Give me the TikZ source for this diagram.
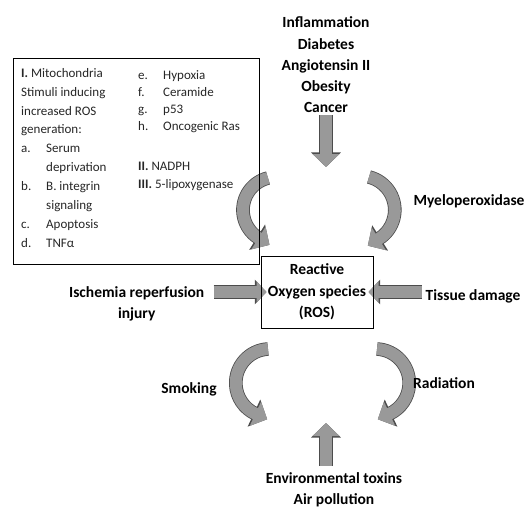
\documentclass[tikz,border=0pt]{standalone}
\usepackage{fontspec}
\setmainfont{Carlito}
\usetikzlibrary{arrows.meta, positioning, backgrounds}
\tikzstyle{factor} = [font=\fontsize{15.5}{21.2}\selectfont\bfseries, align=center, inner sep=2pt]
\tikzstyle{rosbox} = [rectangle, draw=black, line width=1pt, minimum width=112pt, minimum height=72pt, font=\fontsize{15.5}{21.5}\selectfont\bfseries, align=center]
\tikzstyle{listbox} = [rectangle, draw=black, line width=1pt, minimum width=246pt, minimum height=205pt]
\tikzstyle{listtext} = [font=\fontsize{13}{18.9}\selectfont, align=left, inner sep=0pt, anchor=north west, text=black!85]
\tikzstyle{blockarrow} = [line width=12pt, draw=black!40, -{Triangle[length=13pt,width=26pt]}, preaction={draw=black!70, line width=13.6pt, -{Triangle[length=14.6pt,width=29pt]}}]
\tikzstyle{sidearrow} = [line width=12pt, draw=black!40, -{Triangle[length=10pt,width=21pt]}, preaction={draw=black!70, line width=13.6pt, -{Triangle[length=11.6pt,width=24pt]}}]
\newcommand{\stimitem}[2]{\makebox[25pt][l]{#1}#2}

\begin{document}
\begin{tikzpicture}[x=1pt, y=1pt]
\useasboundingbox (0,0) rectangle (527,-508);
\node (ros) [rosbox] at (317,-292) {Reactive\\Oxygen species\\(ROS)};
\node (causes) [factor] at (326,-65) {Inflammation\\Diabetes\\Angiotensin II\\Obesity\\Cancer};
\node (isch) [factor, left=54pt of ros, yshift=-12pt] {Ischemia reperfusion\\injury};
\node (tissue) [factor, right=50pt of ros, yshift=-4pt] {Tissue damage};
\node (myelo) [factor] at (469,-201) {Myeloperoxidase};
\node (smoking) [factor] at (189,-389) {Smoking};
\node (radiation) [factor] at (444,-383) {Radiation};
\node (env) [factor] at (334,-490) {Environmental toxins\\Air pollution};
\node (stimuli) [listbox] at (136,-161.5) {};
\node (stimleft) [listtext] at (21,-68) {{\bfseries I.} Mitochondria\\
  Stimuli inducing\\
  increased ROS\\
  generation:\\
  \stimitem{a.}{Serum}\\
  \stimitem{}{deprivation}\\
  \stimitem{b.}{B. integrin}\\
  \stimitem{}{signaling}\\
  \stimitem{c.}{Apoptosis}\\
  \stimitem{d.}{TNFα}};
\node (stimright) [listtext, font=\fontsize{13}{17.2}\selectfont] at (138,-70) {\stimitem{e.}{Hypoxia}\\
  \stimitem{f.}{Ceramide}\\
  \stimitem{g.}{p53}\\
  \stimitem{h.}{Oncogenic Ras}\\[23pt]
  {\bfseries II.} NADPH\\
  {\bfseries III.} 5-lipoxygenase};
\coordinate (downtip) at (326,-167);
\coordinate (uptip) at (326,-423);
\coordinate (tl) at (268,-178);
\coordinate (tr) at (369,-177);
\coordinate (bl) at (268,-349);
\coordinate (br) at (377,-349);
\begin{scope}[on background layer]
\draw [blockarrow] (causes.south) -- (downtip);
\draw [blockarrow, shorten <=5pt] (env.north -| uptip) -- (uptip);
\draw [sidearrow, shorten <=7pt, shorten >=-6pt] (isch.east |- ros.west) -- (ros.west);
\draw [sidearrow, shorten <=2pt, shorten >=-5pt] (tissue.west |- ros.east) -- (ros.east);
\draw [blockarrow] (tl) arc[start angle=104, end angle=238, radius=33pt] -- ++(328:13pt);
\draw [blockarrow] (tr) arc[start angle=76, end angle=-58, radius=34pt] -- ++(212:13pt);
\draw [blockarrow] (bl) arc[start angle=93, end angle=245, radius=34pt] -- ++(335:13pt);
\draw [blockarrow] (br) arc[start angle=87, end angle=-65, radius=34pt] -- ++(205:13pt);
\end{scope}
\end{tikzpicture}
\end{document}
